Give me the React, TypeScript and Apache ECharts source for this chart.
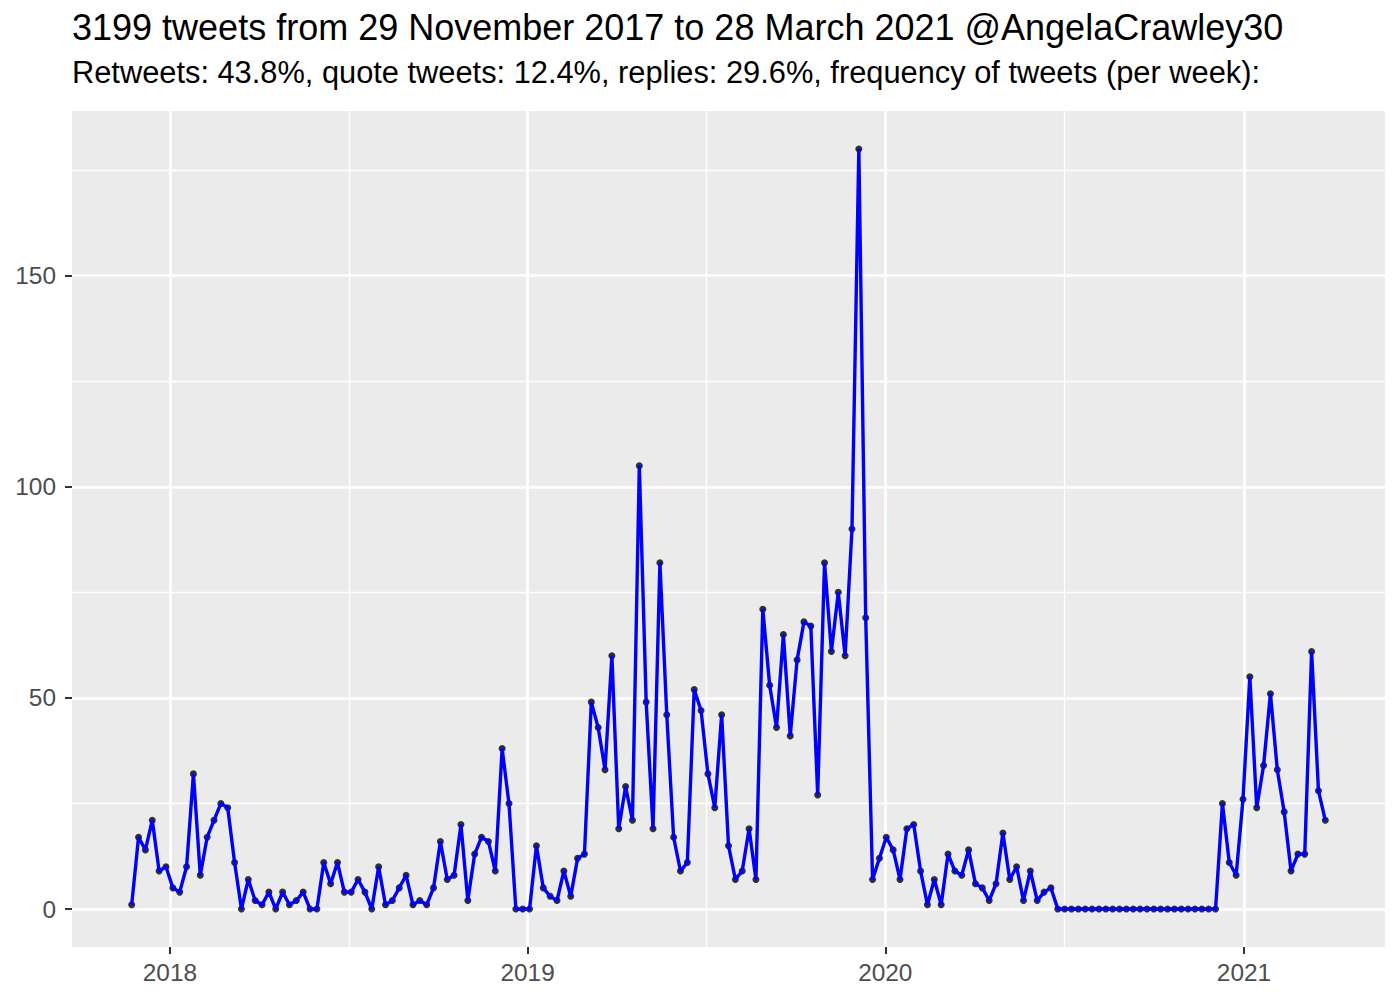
import React, { useEffect, useRef } from "react";
import * as echarts from "echarts";

const FONT = "'Liberation Sans', Arial, Helvetica, sans-serif";

const TITLE = "3199 tweets from 29 November 2017 to 28 March 2021 @AngelaCrawley30";
const SUBTITLE =
  "Retweets: 43.8%, quote tweets: 12.4%, replies: 29.6%, frequency of tweets (per week):";

// first weekly bin, then one value per week
const FIRST_WEEK = "2017-11-23";
const weeklyTweets = [
  1, 17, 14, 21, 9, 10, 5, 4, 10, 32,
  8, 17, 21, 25, 24, 11, 0, 7, 2, 1,
  4, 0, 4, 1, 2, 4, 0, 0, 11, 6,
  11, 4, 4, 7, 4, 0, 10, 1, 2, 5,
  8, 1, 2, 1, 5, 16, 7, 8, 20, 2,
  13, 17, 16, 9, 38, 25, 0, 0, 0, 15,
  5, 3, 2, 9, 3, 12, 13, 49, 43, 33,
  60, 19, 29, 21, 105, 49, 19, 82, 46, 17,
  9, 11, 52, 47, 32, 24, 46, 15, 7, 9,
  19, 7, 71, 53, 43, 65, 41, 59, 68, 67,
  27, 82, 61, 75, 60, 90, 180, 69, 7, 12,
  17, 14, 7, 19, 20, 9, 1, 7, 1, 13,
  9, 8, 14, 6, 5, 2, 6, 18, 7, 10,
  2, 9, 2, 4, 5, 0, 0, 0, 0, 0,
  0, 0, 0, 0, 0, 0, 0, 0, 0, 0,
  0, 0, 0, 0, 0, 0, 0, 0, 0, 25,
  11, 8, 26, 55, 24, 34, 51, 33, 23, 9,
  13, 13, 61, 28, 21,
];

const xTickLabels = ["2018-01-01", "2019-01-01", "2020-01-01", "2021-01-01"];
const yTickValues = [0, 50, 100, 150];
const yMinorValues = [25, 75, 125, 175];

const DAY = 86400000;
const toTs = (s: string) => new Date(s + "T00:00:00Z").getTime();

export default function App() {
  const ref = useRef<HTMLDivElement>(null);

  useEffect(() => {
    if (!ref.current) return;
    const chart = echarts.init(ref.current, null, { renderer: "svg" });

    const start = toTs(FIRST_WEEK);
    const points = weeklyTweets.map((v, i) => [start + i * 7 * DAY, v]);
    const tFirst = points[0][0];
    const tLast = points[points.length - 1][0];
    const span = tLast - tFirst;
    const xMin = tFirst - 0.05 * span;
    const xMax = tLast + 0.05 * span;

    const yVals = weeklyTweets;
    const yLo = Math.min(...yVals);
    const yHi = Math.max(...yVals);
    const ySpan = yHi - yLo;
    const yMin = yLo - 0.05 * ySpan;
    const yMax = yHi + 0.05 * ySpan;

    const yearTs = xTickLabels.map(toTs);
    const minorTs: number[] = [];
    for (let i = 0; i < yearTs.length - 1; i++) minorTs.push((yearTs[i] + yearTs[i + 1]) / 2);

    const noLine = { show: false, onZero: false };

    chart.setOption({
      animation: false,
      backgroundColor: "#FFFFFF",
      textStyle: { fontFamily: FONT },
      graphic: [
        {
          type: "text",
          x: 72,
          y: 27.5,
          style: {
            text: TITLE,
            fontSize: 36,
            fontFamily: FONT,
            fill: "#000000",
            align: "left",
            verticalAlign: "middle",
          },
        },
        {
          type: "text",
          x: 72,
          y: 72.5,
          style: {
            text: SUBTITLE,
            fontSize: 30.8,
            fontFamily: FONT,
            fill: "#000000",
            align: "left",
            verticalAlign: "middle",
          },
        },
      ],
      grid: {
        left: 72,
        right: 15,
        top: 111,
        bottom: 53,
        show: true,
        backgroundColor: "#EBEBEB",
        borderWidth: 0,
      },
      xAxis: [
        {
          type: "value",
          min: xMin,
          max: xMax,
          position: "bottom",
          axisLine: noLine,
          axisTick: {
            show: true,
            length: 7,
            customValues: yearTs,
            lineStyle: { color: "#333333", width: 2 },
          },
          axisLabel: {
            customValues: yearTs,
            formatter: (v: number) => String(new Date(v).getUTCFullYear()),
            color: "#4D4D4D",
            fontSize: 24.4,
            fontFamily: FONT,
            margin: 25,
            verticalAlign: "middle",
          },
          splitLine: { show: true, lineStyle: { color: "#FFFFFF", width: 2.7 } },
        },
        {
          type: "value",
          min: xMin,
          max: xMax,
          position: "bottom",
          axisLine: noLine,
          axisTick: { show: false, customValues: minorTs },
          axisLabel: { show: false, customValues: minorTs },
          splitLine: { show: true, lineStyle: { color: "#FFFFFF", width: 1.35 } },
        },
      ],
      yAxis: [
        {
          type: "value",
          min: yMin,
          max: yMax,
          position: "left",
          axisLine: noLine,
          axisTick: {
            show: true,
            length: 7,
            customValues: yTickValues,
            lineStyle: { color: "#333333", width: 2 },
          },
          axisLabel: {
            customValues: yTickValues,
            color: "#4D4D4D",
            fontSize: 24.4,
            fontFamily: FONT,
            margin: 16,
          },
          splitLine: { show: true, lineStyle: { color: "#FFFFFF", width: 2.7 } },
        },
        {
          type: "value",
          min: yMin,
          max: yMax,
          position: "left",
          axisLine: noLine,
          axisTick: { show: false, customValues: yMinorValues },
          axisLabel: { show: false, customValues: yMinorValues },
          splitLine: { show: true, lineStyle: { color: "#FFFFFF", width: 1.35 } },
        },
      ],
      series: [
        {
          type: "scatter",
          data: points,
          xAxisIndex: 0,
          yAxisIndex: 0,
          symbol: "circle",
          symbolSize: 7,
          itemStyle: { color: "#000000" },
          z: 2,
          silent: true,
        },
        {
          type: "line",
          data: points,
          xAxisIndex: 0,
          yAxisIndex: 0,
          symbol: "none",
          showSymbol: false,
          lineStyle: { color: "#0000FF", width: 3.4 },
          z: 3,
          silent: true,
        },
      ],
    });

    return () => chart.dispose();
  }, []);

  return (
    <div
      ref={ref}
      style={{ position: "absolute", left: 0, top: 0, width: 1400, height: 1000, background: "#fff" }}
    />
  );
}
